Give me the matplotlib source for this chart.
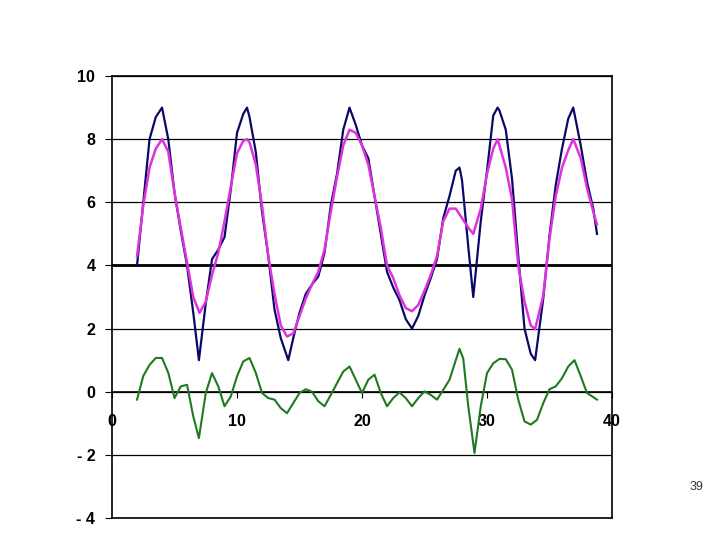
import matplotlib
matplotlib.use('Agg')
import matplotlib.pyplot as plt

plt.rcParams['font.family'] = ['Liberation Sans', 'DejaVu Sans']

# raw signal (navy)
x_signal = [2, 2.5, 3, 3.5, 3.75, 4, 4.5, 5, 5.5, 6, 6.5, 6.95, 7.5, 8, 8.5, 9,
            9.5, 10, 10.5, 10.8, 11, 11.5, 12, 12.5, 13, 13.5, 14.1, 14.5, 15,
            15.5, 16, 16.5, 17, 17.5, 18, 18.5, 19, 19.5, 20, 20.5, 21, 21.5,
            22, 22.5, 23, 23.5, 24, 24.5, 25, 25.5, 26, 26.5, 27, 27.5, 27.8,
            28, 28.5, 28.9, 29.5, 30, 30.5, 30.85, 31, 31.5, 32, 32.5, 33,
            33.5, 33.85, 34.5, 35, 35.5, 36, 36.5, 36.9, 37.5, 38, 38.5, 38.8]
signal = [4.0, 6.0, 8.0, 8.7, 8.85, 9.0, 8.0, 6.3, 5.1, 4.0, 2.5, 1.0, 2.8,
          4.2, 4.5, 4.9, 6.4, 8.2, 8.8, 9.0, 8.7, 7.6, 5.7, 4.3, 2.6, 1.7,
          1.0, 1.7, 2.5, 3.1, 3.4, 3.65, 4.4, 5.9, 6.9, 8.3, 9.0, 8.45,
          7.8, 7.4, 6.2, 5.0, 3.8, 3.3, 2.9, 2.3, 2.0, 2.4, 3.05, 3.6,
          4.2, 5.5, 6.2, 7.0, 7.1, 6.7, 4.6, 3.0, 5.4, 7.0, 8.75, 9.0, 8.9,
          8.3, 6.75, 4.3, 2.0, 1.2, 1.0, 2.95, 4.95, 6.55, 7.7, 8.65, 9.0,
          7.8, 6.65, 5.8, 5.0]

# smoothed signal (magenta)
x_smooth = [2, 2.5, 3, 3.5, 4, 4.5, 5, 5.5, 6, 6.5, 7, 7.5, 8, 8.5, 9, 9.5,
            10, 10.5, 10.8, 11, 11.5, 12, 12.5, 13, 13.5, 14, 14.5, 15, 15.5,
            16, 16.5, 17, 17.5, 18, 18.5, 19, 19.5, 20, 20.5, 21, 21.5, 22,
            22.5, 23, 23.5, 24, 24.5, 25, 25.5, 26, 26.5, 27, 27.5, 28, 28.5,
            28.9, 29.5, 30, 30.5, 30.85, 31.5, 32, 32.5, 33, 33.5, 33.85, 34.5,
            35, 35.5, 36, 36.5, 36.9, 37.5, 38, 38.5, 38.8]
smooth = [4.3, 5.9, 7.1, 7.7, 8.0, 7.6, 6.3, 5.2, 4.1, 3.0, 2.5, 2.85,
          3.7, 4.4, 5.4, 6.5, 7.55, 7.95, 8.0, 7.9, 7.2, 5.9, 4.3, 3.1, 2.1,
          1.75, 1.85, 2.4, 2.95, 3.4, 3.8, 4.5, 5.7, 6.8, 7.8, 8.3, 8.2,
          7.8, 7.2, 6.2, 5.2, 4.0, 3.6, 3.05, 2.65, 2.55, 2.75, 3.2, 3.7,
          4.3, 5.4, 5.8, 5.8, 5.5, 5.2, 5.0, 5.8, 6.9, 7.7, 8.0, 7.1,
          6.1, 4.0, 2.85, 2.1, 1.98, 3.05, 4.85, 6.2, 7.1, 7.65, 8.0, 7.4,
          6.45, 5.7, 5.3]

# residual (green)
x_resid = [2, 2.5, 3, 3.5, 4, 4.5, 5, 5.5, 6, 6.5, 6.95, 7.5, 8, 8.5, 9, 9.5,
           10, 10.5, 11, 11.5, 12, 12.5, 13, 13.5, 14, 14.5, 15, 15.5, 16,
           16.5, 17, 17.5, 18, 18.5, 19, 19.5, 20, 20.5, 21, 21.5, 22, 22.5,
           23, 23.5, 24, 24.5, 25, 25.5, 26, 26.5, 27, 27.5, 27.8, 28.1, 28.5,
           29, 29.5, 30, 30.5, 31, 31.5, 32, 32.5, 33, 33.5, 34, 34.5, 35,
           35.5, 36, 36.5, 37, 37.5, 38, 38.5, 38.8]
residual = [-0.25, 0.5, 0.85, 1.07, 1.07, 0.6, -0.2, 0.17, 0.22, -0.78,
            -1.47, -0.04, 0.59, 0.17, -0.46, -0.15, 0.49, 0.96, 1.07, 0.6,
            -0.04, -0.2, -0.25, -0.52, -0.68, -0.36, -0.04, 0.08, 0.0, -0.3,
            -0.46, -0.1, 0.27, 0.64, 0.8, 0.38, -0.04, 0.38, 0.54, -0.04,
            -0.46, -0.2, -0.02, -0.2, -0.46, -0.2, 0.01, -0.1, -0.25, 0.06,
            0.38, 1.0, 1.36, 1.05, -0.46, -1.94, -0.46, 0.59, 0.9, 1.04, 1.03,
            0.7, -0.25, -0.94, -1.04, -0.89, -0.36, 0.08, 0.17, 0.43, 0.8,
            1.0, 0.49, -0.04, -0.17, -0.25]

xticks = [0, 10, 20, 30, 40]
yticks = [-4, -2, 0, 2, 4, 6, 8, 10]
ytick_labels = ['- 4', '- 2', '0', '2', '4', '6', '8', '10']

fig = plt.figure(figsize=(7.2, 5.4), dpi=100)
ax = fig.add_axes([0.1556, 0.0407, 0.6944, 0.8185])

ax.plot(x_signal, signal, color='#0a0a66', lw=1.6, zorder=3)
ax.plot(x_smooth, smooth, color='#dd33dd', lw=1.8, zorder=4)
ax.plot(x_resid, residual, color='#1f7a1f', lw=1.5, zorder=3)

ax.set_xlim(0, 40)
ax.set_ylim(-4, 10)

# horizontal grid, with the 4 line drawn heavier
ax.set_yticks(yticks)
ax.set_yticklabels(ytick_labels)
ax.yaxis.grid(True, color='black', lw=0.9)
ax.axhline(4, color='black', lw=2, zorder=2)
ax.axhline(-4, color='black', lw=1.2, clip_on=False, zorder=5)

# x axis crosses at y = 0
ax.spines['bottom'].set_position(('data', 0))
ax.spines['bottom'].set_linewidth(1.2)
for s in ['left', 'top', 'right']:
    ax.spines[s].set_linewidth(1.2)
ax.set_xticks(xticks)
ax.set_xticklabels([str(t) for t in xticks])
ax.tick_params(axis='x', direction='out', length=4, pad=12, labelsize=11.5)
ax.tick_params(axis='y', direction='out', length=5, pad=7, labelsize=11.5)
for lab in ax.get_xticklabels() + ax.get_yticklabels():
    lab.set_fontweight('bold')

fig.text(0.968, 0.098, '39', ha='center', va='center', fontsize=9,
         color='#333333')

fig.savefig('out.png', dpi=100)
